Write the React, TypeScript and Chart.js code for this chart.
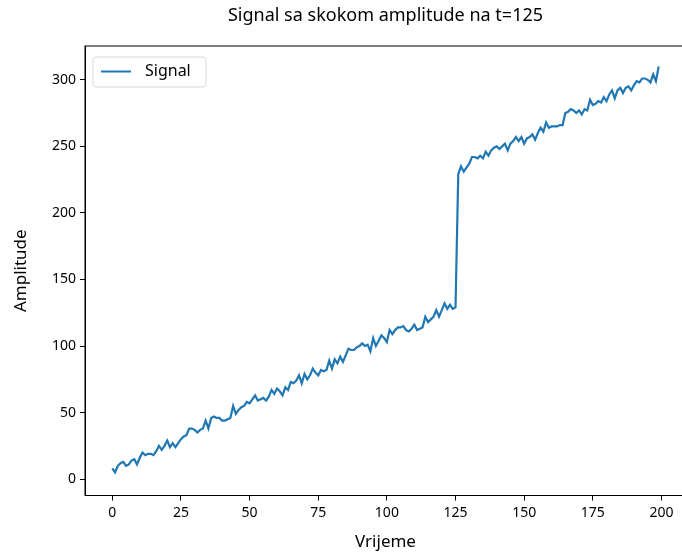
import React, { useEffect, useRef } from "react";
import { Chart, registerables } from "chart.js";

Chart.register(...registerables);

const TITLE = "Signal sa skokom amplitude na t=125";
const X_LABEL = "Vrijeme";
const Y_LABEL = "Amplitude";
const SERIES_NAME = "Signal";
const X_TICKS = [0, 25, 50, 75, 100, 125, 150, 175, 200];
const Y_TICKS = [0, 50, 100, 150, 200, 250, 300];

const SIGNAL = [
  8, 5, 10, 12, 13, 10, 11, 14, 15, 11,
  16, 20, 18, 19, 19, 18, 21, 25, 22, 25,
  29, 24, 27, 24, 27, 30, 32, 33, 38, 38,
  37, 35, 37, 38, 44, 38, 46, 47, 46, 46,
  44, 44, 45, 46, 55, 49, 52, 54, 55, 58,
  57, 60, 63, 59, 60, 61, 59, 62, 67, 64,
  68, 66, 63, 69, 67, 73, 72, 74, 78, 72,
  79, 75, 78, 83, 80, 78, 82, 81, 82, 89,
  83, 90, 87, 92, 88, 93, 98, 97, 97, 99,
  100, 102, 100, 101, 96, 106, 100, 104, 108, 106,
  103, 112, 109, 112, 114, 114, 115, 112, 111, 113,
  116, 112, 113, 114, 122, 118, 120, 122, 127, 122,
  127, 132, 128, 131, 128, 129, 229, 235, 231, 234,
  237, 242, 242, 241, 243, 241, 246, 243, 247, 249,
  250, 248, 250, 252, 247, 252, 254, 257, 254, 257,
  252, 256, 257, 259, 255, 260, 264, 261, 268, 264,
  265, 265, 265, 266, 266, 275, 276, 278, 277, 275,
  277, 274, 278, 277, 285, 281, 282, 284, 283, 287,
  284, 289, 292, 286, 292, 294, 290, 294, 295, 292,
  296, 299, 298, 301, 301, 300, 298, 304, 299, 310,
];
const TIME = SIGNAL.map((_, i) => i);

const FONT = "'Noto Sans', 'Open Sans', sans-serif";
const LINE_COLOR = "#1f77b4";

const decorPlugin = {
  id: "decor",
  afterDraw(chart: any) {
    const { ctx, chartArea } = chart;
    const { left, right, top, bottom } = chartArea;
    ctx.save();
    ctx.strokeStyle = "#000";
    ctx.lineWidth = 1;
    ctx.strokeRect(left, top, right - left, bottom - top);
    ctx.fillStyle = "#000";
    ctx.font = `18px ${FONT}`;
    ctx.textAlign = "center";
    ctx.textBaseline = "middle";
    ctx.fillText(TITLE, (left + right) / 2, 16);
    const bx = 93, by = 57, bw = 113, bh = 30, r = 3;
    ctx.beginPath();
    ctx.moveTo(bx + r, by);
    ctx.lineTo(bx + bw - r, by);
    ctx.arcTo(bx + bw, by, bx + bw, by + r, r);
    ctx.lineTo(bx + bw, by + bh - r);
    ctx.arcTo(bx + bw, by + bh, bx + bw - r, by + bh, r);
    ctx.lineTo(bx + r, by + bh);
    ctx.arcTo(bx, by + bh, bx, by + bh - r, r);
    ctx.lineTo(bx, by + r);
    ctx.arcTo(bx, by, bx + r, by, r);
    ctx.closePath();
    ctx.fillStyle = "rgba(255,255,255,0.8)";
    ctx.fill();
    ctx.strokeStyle = "#d6d6d6";
    ctx.stroke();
    ctx.strokeStyle = LINE_COLOR;
    ctx.lineWidth = 2;
    ctx.beginPath();
    ctx.moveTo(101, 71.5);
    ctx.lineTo(131, 71.5);
    ctx.stroke();
    ctx.fillStyle = "#000";
    ctx.font = `16px ${FONT}`;
    ctx.textAlign = "left";
    ctx.fillText(SERIES_NAME, 145, 71.5);
    ctx.restore();
  },
};

export default function App() {
  const ref = useRef<HTMLCanvasElement | null>(null);

  useEffect(() => {
    if (!ref.current) return;
    const chart = new Chart(ref.current, {
      type: "line",
      data: {
        datasets: [
          {
            label: SERIES_NAME,
            data: SIGNAL.map((v, i) => ({ x: TIME[i], y: v })),
            borderColor: LINE_COLOR,
            backgroundColor: LINE_COLOR,
            borderWidth: 2.2,
            pointRadius: 0,
            tension: 0,
            fill: false,
          },
        ],
      },
      options: {
        responsive: false,
        animation: false,
        layout: { padding: { top: 46, right: 14, left: 0, bottom: 0 } },
        plugins: {
          legend: { display: false },
          title: { display: false },
          tooltip: { enabled: false },
        },
        scales: {
          x: {
            type: "linear",
            min: -9.95,
            max: 208.95,
            afterBuildTicks: (s: any) => {
              s.ticks = X_TICKS.map((v) => ({ value: v }));
            },
            afterFit: (s: any) => {
              s.height = 58.5;
            },
            grid: {
              drawOnChartArea: false,
              drawTicks: true,
              tickLength: 5,
              color: "#000",
              lineWidth: 1,
            },
            border: { display: true, color: "#000", width: 1 },
            ticks: {
              color: "#000",
              font: { family: FONT, size: 14 },
              padding: 4,
              maxRotation: 0,
              autoSkip: false,
            },
            title: {
              display: true,
              text: X_LABEL,
              color: "#000",
              font: { family: FONT, size: 17 },
              padding: { top: 0, bottom: 2 },
            },
          },
          y: {
            type: "linear",
            min: -12.3,
            max: 325.4,
            afterBuildTicks: (s: any) => {
              s.ticks = Y_TICKS.map((v) => ({ value: v }));
            },
            afterFit: (s: any) => {
              s.width = 85;
            },
            grid: {
              drawOnChartArea: false,
              drawTicks: true,
              tickLength: 5,
              color: "#000",
              lineWidth: 1,
            },
            border: { display: true, color: "#000", width: 1 },
            ticks: {
              color: "#000",
              font: { family: FONT, size: 14 },
              padding: 4,
              autoSkip: false,
            },
            title: {
              display: true,
              text: Y_LABEL,
              color: "#000",
              font: { family: FONT, size: 17 },
              padding: { top: 11, bottom: 0 },
            },
          },
        },
      },
      plugins: [decorPlugin],
    } as any);
    return () => chart.destroy();
  }, []);

  return (
    <div
      style={{
        position: "fixed",
        left: 0,
        top: 0,
        width: 682,
        height: 554,
        overflow: "hidden",
        background: "#fff",
      }}
    >
      <canvas ref={ref} width={700} height={554} style={{ display: "block" }} />
    </div>
  );
}
